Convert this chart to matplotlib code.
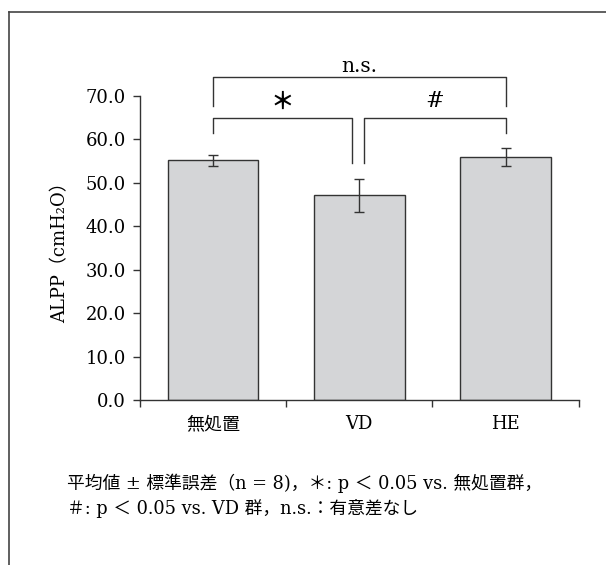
import matplotlib
matplotlib.use('Agg')
import matplotlib.pyplot as plt
from matplotlib.lines import Line2D

# data
groups = ['無処置', 'VD', 'HE']
means = [55.2, 47.1, 56.0]
sems = [1.2, 3.9, 2.0]
yticks = [0, 10, 20, 30, 40, 50, 60, 70]
ylabel = 'ALPP（cmH₂O）'
note1 = '平均値 ± 標準誤差（n = 8)，＊: p ＜ 0.05 vs. 無処置群，'
note2 = '＃: p ＜ 0.05 vs. VD 群，n.s.：有意差なし'

plt.rcParams['font.family'] = ['DejaVu Serif', 'Noto Sans CJK JP']
dark = '#333333'

fig = plt.figure(figsize=(6.06, 5.65), dpi=100)
ax = fig.add_axes([0.231, 0.292, 0.724, 0.538])

x = list(range(len(groups)))
ax.bar(x, means, width=0.62, color='#d4d5d7', edgecolor=dark, linewidth=1.0, zorder=2)
ax.errorbar(x, means, yerr=sems, fmt='none', ecolor=dark, elinewidth=1.0,
            capsize=3.5, capthick=1.0, zorder=3)

ax.set_xlim(-0.5, 2.5)
ax.set_ylim(0, 70)
ax.set_yticks(yticks)
ax.set_yticklabels([f'{v:.1f}' for v in yticks], fontsize=13)
ax.set_xticks([-0.5, 0.5, 1.5, 2.5])
ax.set_xticklabels([])
ax.set_xticks(x, minor=True)
ax.set_xticklabels(groups, minor=True, fontsize=13)
ax.tick_params(axis='x', which='minor', length=0, pad=11)
ax.tick_params(axis='both', which='major', direction='out', length=5, width=1.0, color=dark, pad=5)
for s in ['top', 'right']:
    ax.spines[s].set_visible(False)
for s in ['left', 'bottom']:
    ax.spines[s].set_color(dark)
    ax.spines[s].set_linewidth(1.0)
ax.set_ylabel(ylabel, fontsize=13, labelpad=12)


def bracket(x0, x1, y_top, y0, y1, label, ly, fs, weight='normal'):
    ax.plot([x0, x0, x1, x1], [y0, y_top, y_top, y1], color=dark, lw=1.0, clip_on=False)
    ax.text((x0 + x1) / 2, ly, label, ha='center', va='center', fontsize=fs, weight=weight)


bracket(0, 2, 74.3, 67.8, 67.8, 'n.s.', 76.9, 14.5)
bracket(0, 0.95, 65.0, 61.5, 54.6, '＊', 68.6, 17, 'bold')
bracket(1.035, 2, 65.0, 54.6, 61.5, '#', 68.8, 16)

fig.text(0.110, 1 - 483 / 565, note1, fontsize=12.8, va='center', ha='left')
fig.text(0.110, 1 - 508 / 565, note2, fontsize=12.8, va='center', ha='left')

# outer frame (top and left edges only)
fig.add_artist(Line2D([9 / 606, 1.0], [1 - 12 / 565, 1 - 12 / 565], color='#444444', lw=1.2))
fig.add_artist(Line2D([9 / 606, 9 / 606], [1 - 12 / 565, 0.0], color='#444444', lw=1.2))

fig.savefig('out.png', dpi=100)
